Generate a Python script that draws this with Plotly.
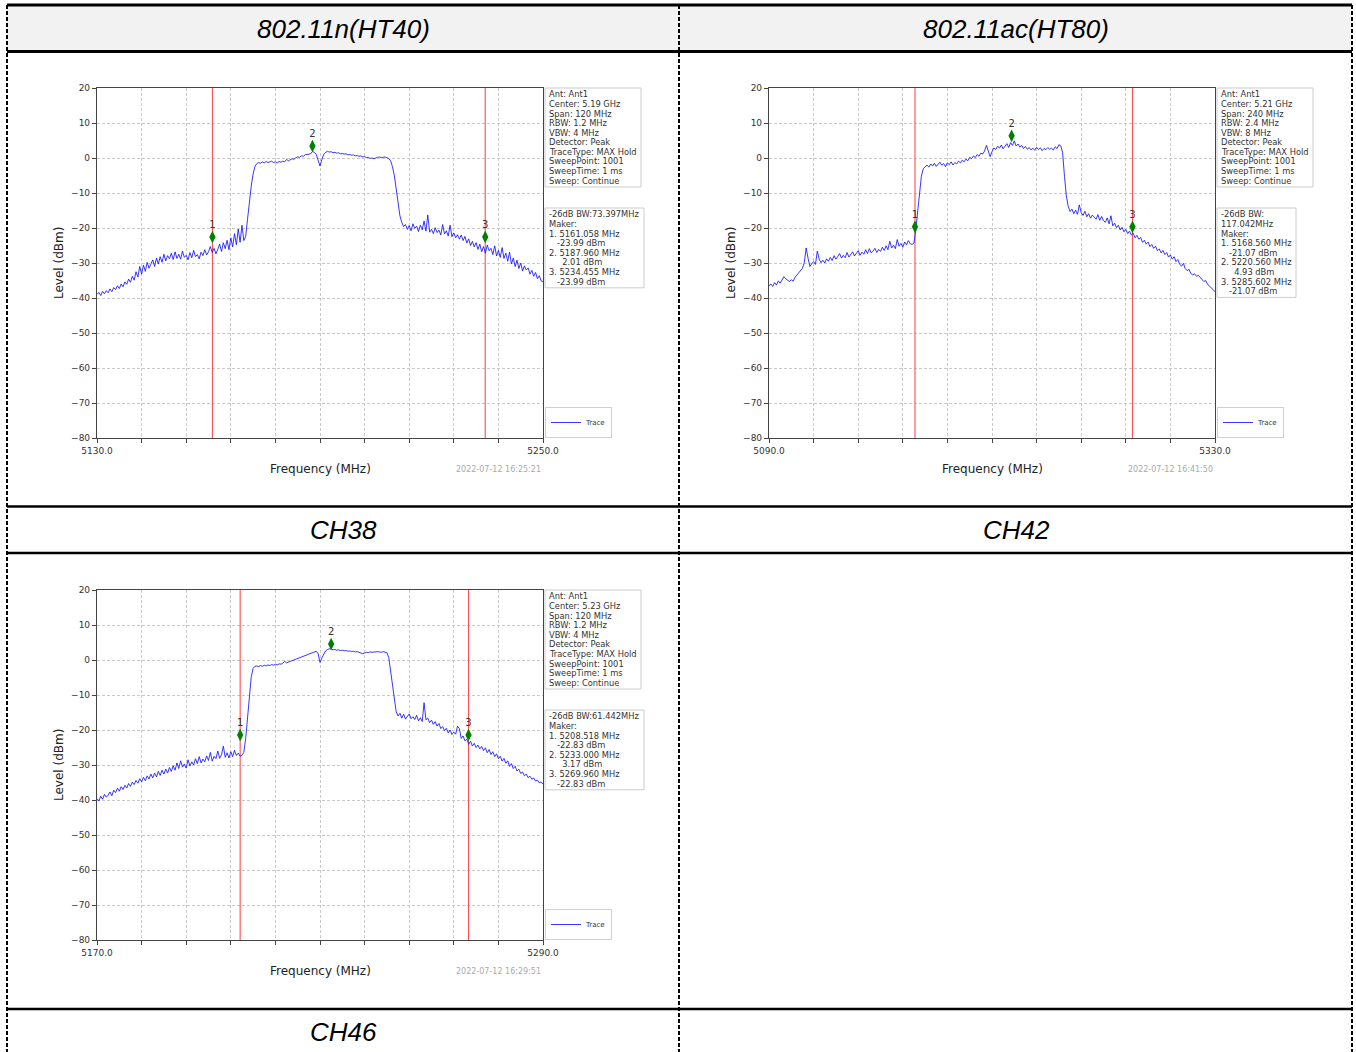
import numpy as np
import plotly.graph_objects as go

W, H = 1356, 1052

# ---------------- data ----------------
HEADERS = ["802.11n(HT40)", "802.11ac(HT80)"]
CHANNEL_LABELS = ["CH38", "CH42", "CH46"]

Y_TICKS = [20, 10, 0, -10, -20, -30, -40, -50, -60, -70, -80]

# CH38 : 5130 - 5250 MHz, levels read every 0.5 MHz
CH38_RANGE = [5130.0, 5250.0]
CH38_LEVEL = [
    -39.0, -38.4, -39.3, -38.1, -38.8, -37.9, -38.5, -37.4, -38.2, -37.0,
    -37.6, -36.5, -37.3, -36.0, -36.8, -35.4, -36.1, -34.6, -35.5, -33.8,
    -34.9, -32.5, -34.0, -31.0, -33.2, -30.6, -32.4, -29.8, -31.5, -30.2,
    -29.1, -31.0, -28.6, -30.3, -28.2, -29.8, -27.5, -29.4, -27.9, -28.8,
    -27.2, -29.0, -26.8, -28.7, -27.5, -28.9, -26.6, -28.4, -27.8, -29.1,
    -27.0, -28.5, -26.4, -28.2, -27.6, -28.8, -26.9, -27.9, -26.2, -27.7,
    -26.8, -25.3, -27.0, -25.8, -27.4, -26.1, -24.6, -26.7, -24.2, -25.9,
    -23.5, -26.2, -22.8, -25.4, -21.6, -24.8, -20.3, -24.1, -19.2, -23.6,
    -22.4, -17.5, -11.8, -8.0, -4.6, -2.4, -1.6, -1.3, -1.5, -1.1,
    -1.4, -1.0, -1.3, -1.2, -0.9, -1.3, -1.1, -1.4, -1.0, -1.2,
    -0.9, -1.1, -0.4, -0.8, -0.5, -0.2, -0.4, 0.1, 0.3, 0.2,
    0.6, 0.5, 0.9, 1.0, 1.3, 1.2, 1.9, 1.6, 1.0, -0.6,
    -2.3, -0.4, 1.0, 1.6, 1.9, 1.7, 1.8, 1.5, 1.6, 1.4,
    1.5, 1.2, 1.3, 1.1, 1.2, 0.9, 1.0, 0.8, 0.9, 0.6,
    0.7, 0.5, 0.6, 0.3, 0.4, 0.1, 0.2, -0.1, 0.0, -0.2,
    0.1, 0.2, 0.3, 0.1, 0.2, 0.3, 0.1, -0.2, -0.8, -2.5,
    -5.0, -8.8, -13.2, -16.5, -18.4, -19.6, -19.0, -20.4, -19.3, -20.8,
    -18.8, -20.1, -19.5, -21.0, -19.2, -20.5, -18.0, -20.9, -16.3, -21.2,
    -20.4, -21.6, -19.9, -21.3, -20.6, -22.0, -19.0, -21.7, -20.8, -22.3,
    -19.2, -22.5, -21.4, -22.8, -21.9, -23.2, -22.0, -23.6, -22.4, -24.3,
    -23.1, -25.0, -23.8, -25.4, -24.2, -26.1, -24.6, -26.8, -25.3, -27.2,
    -24.9, -26.5, -25.8, -27.6, -25.1, -28.0, -26.4, -28.4, -25.6, -28.7,
    -27.2, -29.5, -26.9, -30.3, -28.6, -31.0, -29.2, -31.6, -30.0, -32.3,
    -30.8, -32.0, -31.4, -33.2, -32.1, -33.8, -32.7, -34.5, -33.6, -35.1,
    -35.4,
]
CH38_MARKER_FREQ = [5161.058, 5187.960, 5234.455]
CH38_MARKER_LEVEL = [-23.99, 2.01, -23.99]
CH38_SETTINGS = ["Ant: Ant1", "Center: 5.19 GHz", "Span: 120 MHz", "RBW: 1.2 MHz",
                 "VBW: 4 MHz", "Detector: Peak", "TraceType: MAX Hold",
                 "SweepPoint: 1001", "SweepTime: 1 ms", "Sweep: Continue"]
CH38_MARKER_INFO = ["-26dB BW:73.397MHz", "Maker:", "1. 5161.058 MHz", "   -23.99 dBm",
                    "2. 5187.960 MHz", "     2.01 dBm", "3. 5234.455 MHz", "   -23.99 dBm"]
CH38_TIME = "2022-07-12 16:25:21"

# CH42 : 5090 - 5330 MHz, levels read every 1 MHz
CH42_RANGE = [5090.0, 5330.0]
CH42_LEVEL = [
    -36.5, -36.0, -36.7, -35.6, -36.3, -35.1, -35.8, -34.6, -33.9, -34.5,
    -35.0, -35.3, -34.8, -35.2, -34.1, -33.5, -32.8, -32.2, -31.5, -29.8,
    -25.7, -28.6, -31.0, -30.2, -29.6, -30.4, -26.6, -28.9, -29.9, -29.2,
    -30.0, -28.8, -29.5, -28.4, -29.3, -27.9, -28.9, -28.1, -27.3, -28.6,
    -27.8, -28.5, -27.0, -28.3, -27.6, -26.8, -28.0, -27.2, -26.5, -27.8,
    -26.9, -27.5, -26.2, -27.3, -25.9, -27.1, -26.6, -25.8, -27.0, -26.1,
    -26.7, -25.5, -26.4, -25.1, -26.2, -23.8, -25.7, -24.9, -25.9, -23.3,
    -25.2, -24.4, -25.5, -24.0, -24.8, -23.6, -24.5, -24.7, -24.3, -20.5,
    -15.7, -9.2, -5.2, -3.1, -2.4, -2.0, -2.6, -1.7, -2.3, -1.5,
    -2.4, -1.8, -1.2, -2.1, -1.6, -2.5, -1.4, -1.9, -1.1, -2.0,
    -1.3, -1.7, -0.9, -1.4, -0.6, -1.1, -0.3, -0.8, 0.2, -0.2,
    0.6, 0.1, 1.0, 0.5, 1.4, 1.1, 2.0, 3.6, 2.2, 0.4,
    1.8, 2.9, 2.4, 3.4, 2.8, 3.7, 2.6, 3.3, 4.1, 3.0,
    4.4, 3.6, 4.9, 3.4, 4.0, 3.1, 3.6, 2.7, 3.3, 2.5,
    3.0, 2.3, 2.8, 2.2, 3.1, 2.4, 2.9, 2.1, 2.7, 2.4,
    3.0, 2.5, 2.8, 2.3, 3.2, 2.7, 3.8, 3.5, 1.5, -5.2,
    -10.8, -13.8, -15.3, -14.6, -15.9, -14.9, -16.1, -13.4, -15.6, -16.4,
    -15.2, -16.8, -15.9, -17.2, -16.3, -16.9, -17.5, -16.2, -17.8, -16.7,
    -17.9, -18.4, -17.1, -18.8, -16.5, -19.4, -18.6, -19.9, -19.2, -20.6,
    -19.8, -21.1, -20.4, -21.6, -20.9, -22.0, -21.5, -22.8, -22.1, -23.2,
    -22.7, -24.1, -23.5, -24.6, -24.0, -25.3, -24.7, -25.8, -25.2, -26.5,
    -26.0, -27.1, -26.4, -27.6, -27.0, -28.3, -27.7, -28.9, -28.2, -29.6,
    -29.0, -30.4, -30.9, -30.1, -31.6, -32.2, -31.8, -33.0, -33.4, -33.1,
    -33.8, -33.5, -34.2, -34.9, -35.3, -35.0, -36.1, -36.6, -37.0, -37.6,
    -38.2,
]
CH42_MARKER_FREQ = [5168.560, 5220.560, 5285.602]
CH42_MARKER_LEVEL = [-21.07, 4.93, -21.07]
CH42_SETTINGS = ["Ant: Ant1", "Center: 5.21 GHz", "Span: 240 MHz", "RBW: 2.4 MHz",
                 "VBW: 8 MHz", "Detector: Peak", "TraceType: MAX Hold",
                 "SweepPoint: 1001", "SweepTime: 1 ms", "Sweep: Continue"]
CH42_MARKER_INFO = ["-26dB BW:", "117.042MHz", "Maker:", "1. 5168.560 MHz", "   -21.07 dBm",
                    "2. 5220.560 MHz", "     4.93 dBm", "3. 5285.602 MHz", "   -21.07 dBm"]
CH42_TIME = "2022-07-12 16:41:50"

# CH46 : 5170 - 5290 MHz, levels read every 0.5 MHz
CH46_RANGE = [5170.0, 5290.0]
CH46_LEVEL = [
    -39.6, -40.3, -38.9, -39.8, -38.4, -39.2, -38.6, -37.7, -38.8, -37.2,
    -37.9, -36.6, -37.5, -36.2, -37.0, -35.8, -36.6, -35.3, -36.1, -34.9,
    -35.6, -34.4, -35.2, -33.9, -34.8, -33.5, -34.5, -33.1, -34.0, -32.6,
    -33.7, -32.3, -33.4, -31.8, -33.0, -31.5, -32.6, -31.2, -32.3, -30.7,
    -31.8, -30.2, -31.5, -29.4, -31.0, -28.8, -30.6, -29.7, -30.9, -28.5,
    -30.3, -29.1, -30.0, -28.2, -29.6, -27.6, -29.4, -28.3, -29.1, -27.4,
    -28.7, -26.4, -28.9, -27.5, -28.2, -26.0, -28.1, -27.1, -24.6, -27.8,
    -26.5, -28.0, -26.2, -27.6, -25.8, -27.3, -26.6, -27.5, -27.2, -26.4,
    -22.5, -15.8, -9.0, -4.8, -2.4, -1.8, -1.7, -1.9, -1.6, -1.8,
    -1.5, -1.7, -1.4, -1.6, -1.3, -1.5, -1.2, -1.4, -1.1, -1.2,
    -0.9, -0.4, -0.8, -0.6, -0.4, -0.2, 0.0, 0.2, 0.4, 0.6,
    0.8, 1.0, 1.2, 1.4, 1.6, 1.8, 2.1, 2.3, 2.5, 1.8,
    -0.7, 0.6, 1.7, 2.6, 3.0, 3.2, 3.1, 2.9, 3.0, 2.8,
    2.9, 2.7, 2.8, 2.6, 2.7, 2.5, 2.6, 2.4, 2.5, 2.3,
    2.4, 2.2, 2.1, 1.8, 2.0, 2.2, 2.1, 2.3, 2.2, 2.3,
    2.2, 2.4, 2.3, 2.2, 2.4, 2.3, 2.1, 0.7, -3.5, -7.4,
    -12.0, -14.8, -16.0, -15.2, -16.6, -15.5, -16.9, -16.1, -15.4, -16.8,
    -16.2, -17.0, -15.8, -17.4, -16.5, -17.6, -12.2, -17.1, -16.6, -17.9,
    -17.2, -18.4, -17.6, -18.9, -18.1, -19.6, -19.0, -20.2, -19.5, -20.8,
    -20.0, -21.3, -20.6, -21.2, -18.9, -19.6, -22.4, -21.7, -23.1, -22.6,
    -24.1, -23.2, -24.6, -23.8, -25.0, -24.3, -25.4, -24.7, -25.9, -25.1,
    -26.5, -25.6, -27.0, -26.2, -27.6, -26.8, -28.2, -27.5, -28.9, -28.1,
    -29.5, -28.8, -30.4, -29.6, -31.0, -30.4, -31.7, -31.2, -32.4, -32.0,
    -33.1, -32.6, -33.6, -33.2, -34.1, -33.7, -34.6, -34.3, -35.1, -34.8,
    -35.5,
]
CH46_MARKER_FREQ = [5208.518, 5233.000, 5269.960]
CH46_MARKER_LEVEL = [-22.83, 3.17, -22.83]
CH46_SETTINGS = ["Ant: Ant1", "Center: 5.23 GHz", "Span: 120 MHz", "RBW: 1.2 MHz",
                 "VBW: 4 MHz", "Detector: Peak", "TraceType: MAX Hold",
                 "SweepPoint: 1001", "SweepTime: 1 ms", "Sweep: Continue"]
CH46_MARKER_INFO = ["-26dB BW:61.442MHz", "Maker:", "1. 5208.518 MHz", "   -22.83 dBm",
                    "2. 5233.000 MHz", "     3.17 dBm", "3. 5269.960 MHz", "   -22.83 dBm"]
CH46_TIME = "2022-07-12 16:29:51"

# ---------------- layout (pixels) ----------------
PANELS = [
    dict(rng=CH38_RANGE, lvl=CH38_LEVEL, mf=CH38_MARKER_FREQ, ml=CH38_MARKER_LEVEL,
         s1=CH38_SETTINGS, s2=CH38_MARKER_INFO, t=CH38_TIME, box=(97, 543, 88, 438),
         w1=96, w2=99),
    dict(rng=CH42_RANGE, lvl=CH42_LEVEL, mf=CH42_MARKER_FREQ, ml=CH42_MARKER_LEVEL,
         s1=CH42_SETTINGS, s2=CH42_MARKER_INFO, t=CH42_TIME, box=(769, 1215, 88, 438),
         w1=96, w2=79),
    dict(rng=CH46_RANGE, lvl=CH46_LEVEL, mf=CH46_MARKER_FREQ, ml=CH46_MARKER_LEVEL,
         s1=CH46_SETTINGS, s2=CH46_MARKER_INFO, t=CH46_TIME, box=(97, 543, 590, 940),
         w1=96, w2=99),
]
MARKER_LIFT = 1.4  # diamond drawn slightly above marker level (as in analyzer plot)
LINE_H = 9.6


def px(x):
    return x / W


def py(y):
    return 1 - y / H


def nb(s):
    return s.replace(" ", "\u00a0")


MPL_FONT = "DejaVu Sans"
TABLE_FONT = "Liberation Sans, Arial, sans-serif"

fig = go.Figure()
shapes = []
annotations = []
layout_axes = {}


def ann(text, x, y, size, color="#222", xa="center", ya="middle", angle=0, family=MPL_FONT):
    annotations.append(dict(text=text, x=px(x), y=py(y), xref="paper", yref="paper",
                            xanchor=xa, yanchor=ya, textangle=angle, showarrow=False,
                            font=dict(family=family, size=size, color=color)))


def info_box(lines, left, top, width):
    h = len(lines) * LINE_H + 3
    shapes.append(dict(type="rect", xref="paper", yref="paper",
                       x0=px(left), x1=px(left + width), y0=py(top + h), y1=py(top),
                       fillcolor="white", line=dict(color="#cccccc", width=1)))
    for k, s in enumerate(lines):
        ann(nb(s), left + 2, top + 6.3 + k * LINE_H, 8.3, color="#333", xa="left")


for i, p in enumerate(PANELS, start=1):
    x0, x1, y0, y1 = p["box"]
    sfx = "" if i == 1 else str(i)
    xa, ya = "x" + sfx, "y" + sfx
    leg = "legend" + sfx
    freq = np.linspace(p["rng"][0], p["rng"][1], len(p["lvl"]))

    # red marker lines (markers 1 and 3)
    for f in (p["mf"][0], p["mf"][-1]):
        fig.add_trace(go.Scatter(x=[f, f], y=[-80, 20], mode="lines",
                                 line=dict(color="#ff4d4d", width=1.1),
                                 xaxis=xa, yaxis=ya, showlegend=False, hoverinfo="skip"))
    fig.add_trace(go.Scatter(
        x=freq, y=p["lvl"], mode="lines", name="Trace",
        line=dict(color="rgba(20,20,255,0.85)", width=1),
        xaxis=xa, yaxis=ya, legend=leg, showlegend=True,
    ))
    fig.add_trace(go.Scatter(
        x=p["mf"], y=[v + MARKER_LIFT for v in p["ml"]], mode="markers+text",
        text=[str(k + 1) for k in range(len(p["mf"]))], textposition="top center",
        textfont=dict(family=MPL_FONT, size=10, color="#333"),
        marker=dict(symbol="diamond-tall", size=9, color="#008000"),
        xaxis=xa, yaxis=ya, showlegend=False, cliponaxis=False,
    ))

    xt = np.linspace(p["rng"][0], p["rng"][1], 11)
    xtext = [f"{v:.1f}" if k in (0, 10) else "" for k, v in enumerate(xt)]
    common = dict(showline=True, linecolor="#444", linewidth=1.2, mirror=True,
                  ticks="outside", ticklen=4, tickwidth=1, tickcolor="#444",
                  showgrid=True, gridcolor="#c8c8c8", gridwidth=0.8, griddash="3px,2px",
                  zeroline=False, automargin=False,
                  tickfont=dict(family=MPL_FONT, size=9, color="#333"))
    layout_axes["xaxis" + sfx] = dict(common, domain=[px(x0), px(x1)], range=p["rng"],
                                      tickmode="array", tickvals=list(xt), ticktext=xtext,
                                      anchor=ya)
    layout_axes["yaxis" + sfx] = dict(common, domain=[py(y1), py(y0)], range=[-80, 20],
                                      tickmode="array", tickvals=Y_TICKS,
                                      ticktext=[str(v).replace("-", "\u2212") for v in Y_TICKS],
                                      anchor=xa)
    layout_axes[leg] = dict(x=px(x1 + 2), y=py(y1), xanchor="left", yanchor="bottom",
                            xref="paper", yref="paper",
                            font=dict(family=MPL_FONT, size=7, color="#333"),
                            bgcolor="white", bordercolor="#d0d0d0", borderwidth=1,
                            itemwidth=30, tracegroupgap=0)

    ann("Level (dBm)", x0 - 38, (y0 + y1) / 2, 12, angle=-90)
    ann("Frequency (MHz)", (x0 + x1) / 2, y1 + 31, 12)
    ann(p["t"], x1, y1 + 31, 8, color="#aaaaaa", xa="right")
    info_box(p["s1"], x1 + 2, y0, p["w1"])
    info_box(p["s2"], x1 + 2, y0 + 120, p["w2"])

# ---------------- table frame ----------------
XL, XM, XR = 7, 679, 1352
shapes.append(dict(type="rect", xref="paper", yref="paper", x0=px(XL), x1=px(XR),
                   y0=py(51.5), y1=py(5), fillcolor="#f2f2f2", line=dict(width=0), layer="below"))
for yy, w in [(5, 3), (51.5, 3), (506.5, 2.5), (553, 2.5), (1009, 2.5)]:
    shapes.append(dict(type="line", xref="paper", yref="paper", x0=px(XL), x1=px(XR),
                       y0=py(yy), y1=py(yy), line=dict(color="black", width=w)))
for xx in (XL, XM, XR):
    shapes.append(dict(type="line", xref="paper", yref="paper", x0=px(xx), x1=px(xx),
                       y0=py(5), y1=py(H), line=dict(color="black", width=2, dash="4px,2px")))

for txt, cx, cy in [(HEADERS[0], 343, 29), (HEADERS[1], 1016, 29),
                    (CHANNEL_LABELS[0], 343, 530), (CHANNEL_LABELS[1], 1016, 530),
                    (CHANNEL_LABELS[2], 343, 1032)]:
    ann(f"<i>{txt}</i>", cx, cy, 26, color="black", family=TABLE_FONT)

fig.update_layout(
    template="none",
    width=W, height=H, margin=dict(l=0, r=0, t=0, b=0, pad=0, autoexpand=False),
    paper_bgcolor="white", plot_bgcolor="white", hovermode=False,
    shapes=shapes, annotations=annotations, **layout_axes,
)

fig.write_html("out.html", config={"displayModeBar": False},
               post_script="document.body.style.margin='0';")
